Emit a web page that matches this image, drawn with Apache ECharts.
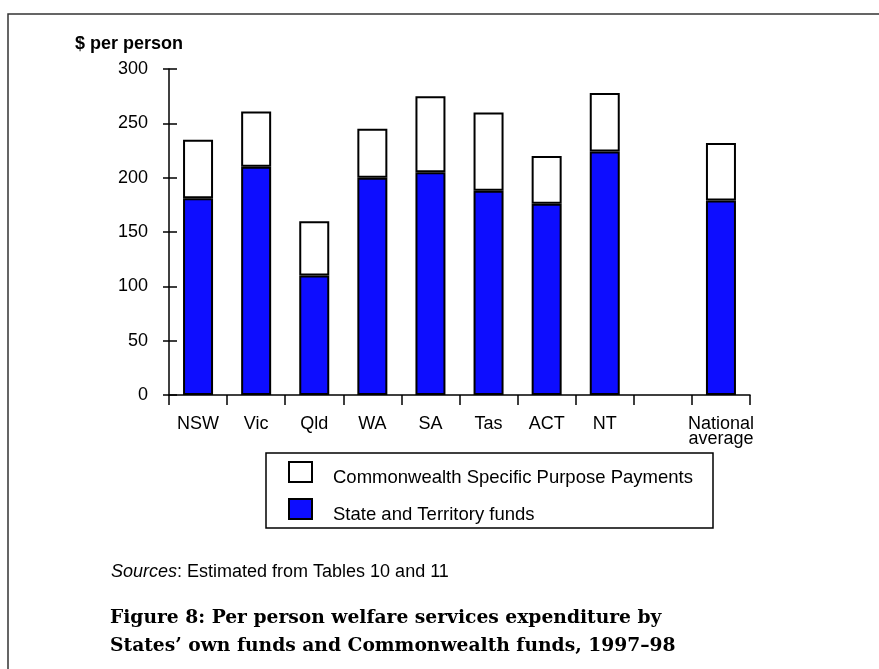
<!DOCTYPE html>
<html>
<head>
<meta charset="utf-8">
<script src="https://cdn.jsdelivr.net/npm/echarts@6/dist/echarts.min.js"></script>
<style>
html,body{margin:0;padding:0;background:#fff;}
#chart{width:879px;height:669px;}
</style>
</head>
<body>
<div id="chart"></div>
<script>
// Data
var categories = ['NSW', 'Vic', 'Qld', 'WA', 'SA', 'Tas', 'ACT', 'NT', '', 'National\naverage'];
var stateFunds = [181, 210, 110, 200, 205, 188, 176, 224, '-', 179];
var commonwealthSPP = [54, 51, 50, 45, 70, 72, 44, 54, '-', 53];
var yTicks = { min: 0, max: 300, interval: 50 };
var seriesNames = ['State and Territory funds', 'Commonwealth Specific Purpose Payments'];
var yAxisTitle = '$ per person';
var sourceLabel = 'Sources';
var sourceText = ': Estimated from Tables 10 and 11';
var captionLines = ['Figure 8: Per person welfare services expenditure by', 'States\u2019 own funds and Commonwealth funds, 1997\u201398'];

var FONT = 'Liberation Sans, Arial, sans-serif';
var BLUE = '#0d0dff';

var chart = echarts.init(document.getElementById('chart'), null, { renderer: 'canvas' });

function legendBox(name, fill, top) {
  return {
    orient: 'vertical',
    left: 288, top: top,
    padding: 0,
    itemWidth: 23, itemHeight: 20,
    formatter: function (n) { return '{t|' + n + '}'; },
    textStyle: {
      color: '#000', fontFamily: FONT, fontSize: 18.5, padding: [0, 0, 0, 16],
      rich: { t: { color: '#000', fontFamily: FONT, fontSize: 18.5, lineHeight: 30, verticalAlign: 'bottom' } }
    },
    data: [{ name: name, icon: 'rect', itemStyle: { color: fill, borderColor: '#000', borderWidth: 2 } }]
  };
}

var option = {
  backgroundColor: '#fff',
  animation: false,
  grid: { left: 169, right: 129, top: 69, bottom: 274, containLabel: false },
  xAxis: {
    type: 'category',
    data: categories,
    axisLine: { lineStyle: { color: '#000', width: 1.5 } },
    axisTick: { show: true, length: 10, lineStyle: { color: '#000', width: 1.5 } },
    axisLabel: { color: '#000', fontFamily: FONT, fontSize: 18, margin: 22, lineHeight: 15, interval: 0 }
  },
  yAxis: [{
    type: 'value',
    min: yTicks.min, max: yTicks.max, interval: yTicks.interval,
    axisLine: { show: true, lineStyle: { color: '#000', width: 1.5 } },
    axisTick: { show: true, length: 6, lineStyle: { color: '#000', width: 1.5 } },
    axisLabel: { color: '#000', fontFamily: FONT, fontSize: 18, margin: 21 },
    splitLine: { show: false }
  }, {
    type: 'value',
    position: 'left',
    min: yTicks.min, max: yTicks.max, interval: yTicks.interval,
    axisLine: { show: false },
    axisTick: { show: true, inside: true, length: 8, lineStyle: { color: '#000', width: 1.5 } },
    axisLabel: { show: false },
    splitLine: { show: false }
  }],
  legend: [
    legendBox(seriesNames[1], '#fff', 461),
    legendBox(seriesNames[0], BLUE, 498)
  ],
  series: [{
    name: seriesNames[0],
    type: 'bar',
    stack: 'total',
    barWidth: 30,
    data: stateFunds,
    itemStyle: { color: BLUE, borderColor: '#000', borderWidth: 2 }
  }, {
    name: seriesNames[1],
    type: 'bar',
    stack: 'total',
    barWidth: 30,
    data: commonwealthSPP,
    itemStyle: { color: '#fff', borderColor: '#000', borderWidth: 2 }
  }],
  graphic: [
    { type: 'polyline', shape: { points: [[8, 690], [8, 14], [900, 14]] }, style: { stroke: '#333', lineWidth: 1.5, fill: null }, silent: true },
    { type: 'rect', shape: { x: 266, y: 453, width: 447, height: 75 }, style: { stroke: '#000', lineWidth: 1.5, fill: null }, silent: true },
    { type: 'text', left: 75, top: 35, style: { text: yAxisTitle, font: 'bold 18px ' + FONT, fill: '#000' } },
    { type: 'text', left: 111, top: 563, style: { rich: { i: { fontStyle: 'italic', fontFamily: FONT, fontSize: 18, fill: '#000' }, n: { fontFamily: FONT, fontSize: 18, fill: '#000' } }, text: '{i|' + sourceLabel + '}{n|' + sourceText + '}' } },
    { type: 'text', left: 110, top: 604, style: { text: captionLines.join('\n'), font: 'bold 18.7px "DejaVu Serif", "Liberation Serif", serif', lineHeight: 28, fill: '#000' } }
  ]
};
chart.setOption(option);
</script>
</body>
</html>
